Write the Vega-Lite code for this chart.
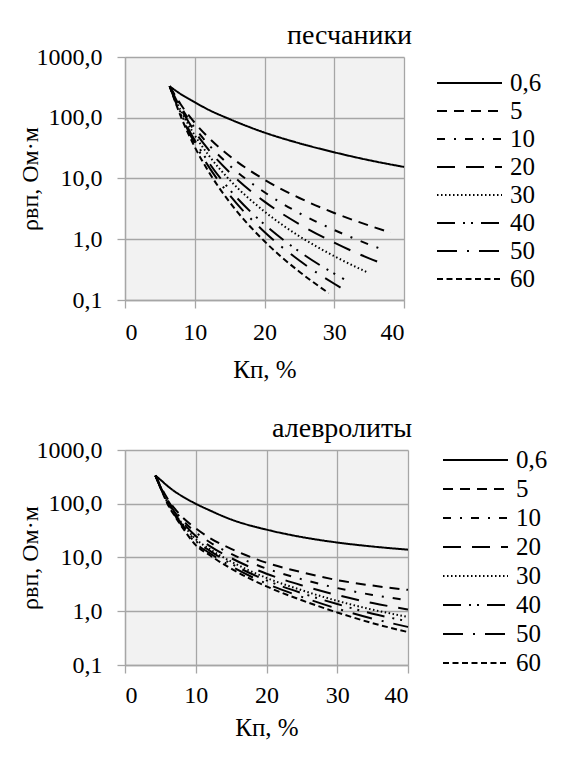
{
  "$schema": "https://vega.github.io/schema/vega-lite/v6.json",
  "padding": {"left": 18, "top": 22, "right": 0, "bottom": 0},
  "background": "white",
  "spacing": 33,
  "datasets": {
    "upper": [
      {"s":"0,6","x":6.4,"y":330},{"s":"0,6","x":8,"y":245},{"s":"0,6","x":10,"y":180},{"s":"0,6","x":12,"y":135},{"s":"0,6","x":15,"y":95},{"s":"0,6","x":20,"y":57},{"s":"0,6","x":25,"y":38},{"s":"0,6","x":30,"y":27},{"s":"0,6","x":35,"y":20},{"s":"0,6","x":40,"y":15.5},
      {"s":"5","x":6.4,"y":330},{"s":"5","x":8,"y":165},{"s":"5","x":10,"y":82.6},{"s":"5","x":12,"y":46.9},{"s":"5","x":15,"y":23.4},{"s":"5","x":20,"y":9.57},{"s":"5","x":25,"y":4.78},{"s":"5","x":30,"y":2.71},{"s":"5","x":35,"y":1.68},{"s":"5","x":38.1,"y":1.28},
      {"s":"10","x":6.4,"y":330},{"s":"10","x":8,"y":151},{"s":"10","x":10,"y":68.4},{"s":"10","x":12,"y":36},{"s":"10","x":15,"y":16.4},{"s":"10","x":20,"y":5.93},{"s":"10","x":25,"y":2.69},{"s":"10","x":30,"y":1.42},{"s":"10","x":35,"y":0.82},{"s":"10","x":36.9,"y":0.68},
      {"s":"20","x":6.4,"y":330},{"s":"20","x":8,"y":141},{"s":"20","x":10,"y":59.6},{"s":"20","x":12,"y":29.6},{"s":"20","x":15,"y":12.6},{"s":"20","x":20,"y":4.16},{"s":"20","x":25,"y":1.77},{"s":"20","x":30,"y":0.88},{"s":"20","x":35,"y":0.485},{"s":"20","x":36.9,"y":0.4},
      {"s":"30","x":6.4,"y":330},{"s":"30","x":8,"y":131},{"s":"30","x":10,"y":51.4},{"s":"30","x":12,"y":24.1},{"s":"30","x":15,"y":9.48},{"s":"30","x":20,"y":2.86},{"s":"30","x":25,"y":1.12},{"s":"30","x":30,"y":0.527},{"s":"30","x":34.9,"y":0.28},
      {"s":"40","x":6.4,"y":330},{"s":"40","x":8,"y":119},{"s":"40","x":10,"y":42.5},{"s":"40","x":12,"y":18.4},{"s":"40","x":15,"y":6.58},{"s":"40","x":20,"y":1.75},{"s":"40","x":25,"y":0.627},{"s":"40","x":30,"y":0.271},{"s":"40","x":31.4,"y":0.22},
      {"s":"50","x":6.4,"y":330},{"s":"50","x":8,"y":112},{"s":"50","x":10,"y":37.9},{"s":"50","x":12,"y":15.7},{"s":"50","x":15,"y":5.31},{"s":"50","x":20,"y":1.32},{"s":"50","x":25,"y":0.446},{"s":"50","x":30,"y":0.185},{"s":"50","x":30.9,"y":0.16},
      {"s":"60","x":6.4,"y":330},{"s":"60","x":8,"y":105},{"s":"60","x":10,"y":33},{"s":"60","x":12,"y":12.9},{"s":"60","x":15,"y":4.08},{"s":"60","x":20,"y":0.925},{"s":"60","x":25,"y":0.292},{"s":"60","x":29.2,"y":0.13}
    ],
    "lower": [
      {"s":"0,6","x":4.3,"y":335},{"s":"0,6","x":5,"y":280},{"s":"0,6","x":6,"y":215},{"s":"0,6","x":7,"y":170},{"s":"0,6","x":8,"y":140},{"s":"0,6","x":10,"y":100},{"s":"0,6","x":12,"y":75},{"s":"0,6","x":15,"y":51},{"s":"0,6","x":20,"y":33},{"s":"0,6","x":25,"y":24},{"s":"0,6","x":30,"y":19},{"s":"0,6","x":35,"y":16},{"s":"0,6","x":40,"y":14},
      {"s":"5","x":4.3,"y":335},{"s":"5","x":5,"y":215},{"s":"5","x":6,"y":125},{"s":"5","x":7,"y":82},{"s":"5","x":8,"y":58},{"s":"5","x":10,"y":35},{"s":"5","x":12,"y":23},{"s":"5","x":15,"y":14.5},{"s":"5","x":20,"y":8},{"s":"5","x":25,"y":5.3},{"s":"5","x":30,"y":3.8},{"s":"5","x":35,"y":3.0},{"s":"5","x":40,"y":2.5},
      {"s":"10","x":4.3,"y":335},{"s":"10","x":5,"y":211},{"s":"10","x":6,"y":118},{"s":"10","x":7,"y":75.9},{"s":"10","x":8,"y":52.2},{"s":"10","x":10,"y":29.3},{"s":"10","x":12,"y":19.2},{"s":"10","x":15,"y":11.7},{"s":"10","x":20,"y":6.22},{"s":"10","x":25,"y":3.94},{"s":"10","x":30,"y":2.7},{"s":"10","x":35,"y":2.01},{"s":"10","x":40,"y":1.6},
      {"s":"20","x":4.3,"y":335},{"s":"20","x":5,"y":208},{"s":"20","x":6,"y":113},{"s":"20","x":7,"y":71},{"s":"20","x":8,"y":47.6},{"s":"20","x":10,"y":25},{"s":"20","x":12,"y":16.3},{"s":"20","x":15,"y":9.75},{"s":"20","x":20,"y":4.99},{"s":"20","x":25,"y":3.03},{"s":"20","x":30,"y":2.0},{"s":"20","x":35,"y":1.42},{"s":"20","x":40,"y":1.08},
      {"s":"30","x":4.3,"y":335},{"s":"30","x":5,"y":205},{"s":"30","x":6,"y":108},{"s":"30","x":7,"y":67.1},{"s":"30","x":8,"y":44.2},{"s":"30","x":10,"y":22},{"s":"30","x":12,"y":14.3},{"s":"30","x":15,"y":8.4},{"s":"30","x":20,"y":4.17},{"s":"30","x":25,"y":2.46},{"s":"30","x":30,"y":1.56},{"s":"30","x":35,"y":1.07},{"s":"30","x":40,"y":0.785},
      {"s":"40","x":4.3,"y":335},{"s":"40","x":5,"y":204},{"s":"40","x":6,"y":106},{"s":"40","x":7,"y":65},{"s":"40","x":8,"y":42.4},{"s":"40","x":10,"y":20.4},{"s":"40","x":12,"y":13.3},{"s":"40","x":15,"y":7.69},{"s":"40","x":20,"y":3.75},{"s":"40","x":25,"y":2.17},{"s":"40","x":30,"y":1.36},{"s":"40","x":35,"y":0.9},{"s":"40","x":40,"y":0.65},
      {"s":"50","x":4.3,"y":335},{"s":"50","x":5,"y":202},{"s":"50","x":6,"y":103},{"s":"50","x":7,"y":62.3},{"s":"50","x":8,"y":40},{"s":"50","x":10,"y":18.5},{"s":"50","x":12,"y":12},{"s":"50","x":15,"y":6.87},{"s":"50","x":20,"y":3.27},{"s":"50","x":25,"y":1.85},{"s":"50","x":30,"y":1.12},{"s":"50","x":35,"y":0.73},{"s":"50","x":40,"y":0.51},
      {"s":"60","x":4.3,"y":335},{"s":"60","x":5,"y":200},{"s":"60","x":6,"y":100},{"s":"60","x":7,"y":60},{"s":"60","x":8,"y":38},{"s":"60","x":10,"y":17},{"s":"60","x":12,"y":11},{"s":"60","x":15,"y":6.2},{"s":"60","x":20,"y":2.9},{"s":"60","x":25,"y":1.6},{"s":"60","x":30,"y":0.95},{"s":"60","x":35,"y":0.6},{"s":"60","x":40,"y":0.41}
    ]
  },
  "config": {
    "view": {"fill": "#f2f2f2", "stroke": null},
    "axis": {
      "gridColor": "#a6a6a6", "gridWidth": 1.3, "gridOpacity": 1,
      "domainColor": "#a6a6a6", "domainWidth": 1.3,
      "tickColor": "#a6a6a6", "tickWidth": 1.3, "tickSize": 8,
      "labelFont": "Liberation Serif", "labelFontSize": 24, "labelColor": "#000",
      "titleFont": "Liberation Serif", "titleFontSize": 25, "titleFontWeight": "normal", "titleColor": "#000"
    },
    "legend": {
      "labelFont": "Liberation Serif", "labelFontSize": 25, "labelColor": "#000",
      "symbolType": "stroke", "symbolStrokeWidth": 2, "symbolStrokeColor": "#000",
      "labelOffset": 7
    },
    "title": {"font": "Liberation Serif", "fontSize": 28, "fontWeight": "normal", "color": "#000"}
  },
  "resolve": {"scale": {"strokeDash": "independent"}, "legend": {"strokeDash": "independent"}},
  "vconcat": [
    {
      "width": 279, "height": 243,
      "title": {"text": "песчаники", "anchor": "end", "frame": "group", "dx": 8, "offset": -27, "baseline": "alphabetic", "font": "Liberation Serif", "fontSize": 28, "fontWeight": "normal", "color": "#000"},
      "data": {"name": "upper"},
      "mark": {"type": "line", "color": "#000", "strokeWidth": 2, "interpolate": "monotone"},
      "encoding": {
        "x": {"field": "x", "type": "quantitative", "scale": {"domain": [0, 40], "nice": false},
              "axis": {"values": [0, 10, 20, 30, 40], "title": "Кп, %", "labelPadding": 12, "titlePadding": 13, "labelFont": "Liberation Serif", "labelFontSize": 24, "titleFont": "Liberation Serif", "titleFontSize": 25, "titleFontWeight": "normal"}},
        "y": {"field": "y", "type": "quantitative", "scale": {"type": "log", "domain": [0.1, 1000]},
              "axis": {"values": [0.1, 1, 10, 100, 1000], "labelExpr": "replace(format(datum.value, '.1f'), '.', ',')", "title": "ρвп, Ом·м", "labelPadding": 15, "titlePadding": -6, "labelFont": "Liberation Serif", "labelFontSize": 24, "titleFont": "Liberation Serif", "titleFontSize": 24, "titleFontWeight": "normal"}},
        "strokeDash": {"field": "s", "type": "nominal",
          "scale": {"domain": ["0,6", "5", "10", "20", "30", "40", "50", "60"],
                    "range": [[1, 0], [10, 7], [8, 9, 2, 9], [18, 11], [1.5, 2.5], [18, 8, 2, 6, 2, 8], [20, 10, 2, 10], [6, 3.5]]},
          "legend": {"orient": "right", "offset": 28, "title": " ", "titleFontSize": 16, "titlePadding": 0, "symbolSize": 4225, "clipHeight": 20, "rowPadding": 3, "labelFont": "Liberation Serif", "labelFontSize": 25}}
      }
    },
    {
      "width": 283, "height": 215,
      "title": {"text": "алевролиты", "anchor": "end", "frame": "group", "dx": 4, "offset": -27, "baseline": "alphabetic", "font": "Liberation Serif", "fontSize": 28, "fontWeight": "normal", "color": "#000"},
      "data": {"name": "lower"},
      "mark": {"type": "line", "color": "#000", "strokeWidth": 2, "interpolate": "monotone"},
      "encoding": {
        "x": {"field": "x", "type": "quantitative", "scale": {"domain": [0, 40], "nice": false},
              "axis": {"values": [0, 10, 20, 30, 40], "title": "Кп, %", "labelPadding": 10, "titlePadding": 8, "labelFont": "Liberation Serif", "labelFontSize": 24, "titleFont": "Liberation Serif", "titleFontSize": 25, "titleFontWeight": "normal"}},
        "y": {"field": "y", "type": "quantitative", "scale": {"type": "log", "domain": [0.1, 1000]},
              "axis": {"values": [0.1, 1, 10, 100, 1000], "labelExpr": "replace(format(datum.value, '.1f'), '.', ',')", "title": "ρвп, Ом·м", "labelPadding": 15, "titlePadding": -6, "labelFont": "Liberation Serif", "labelFontSize": 24, "titleFont": "Liberation Serif", "titleFontSize": 24, "titleFontWeight": "normal"}},
        "strokeDash": {"field": "s", "type": "nominal",
          "scale": {"domain": ["0,6", "5", "10", "20", "30", "40", "50", "60"],
                    "range": [[1, 0], [10, 7], [8, 9, 2, 9], [18, 11], [1.5, 2.5], [18, 8, 2, 6, 2, 8], [20, 10, 2, 10], [6, 3.5]]},
          "legend": {"orient": "right", "offset": 30, "title": null, "symbolSize": 4225, "clipHeight": 20, "rowPadding": 4, "labelFont": "Liberation Serif", "labelFontSize": 25}}
      }
    }
  ]
}
